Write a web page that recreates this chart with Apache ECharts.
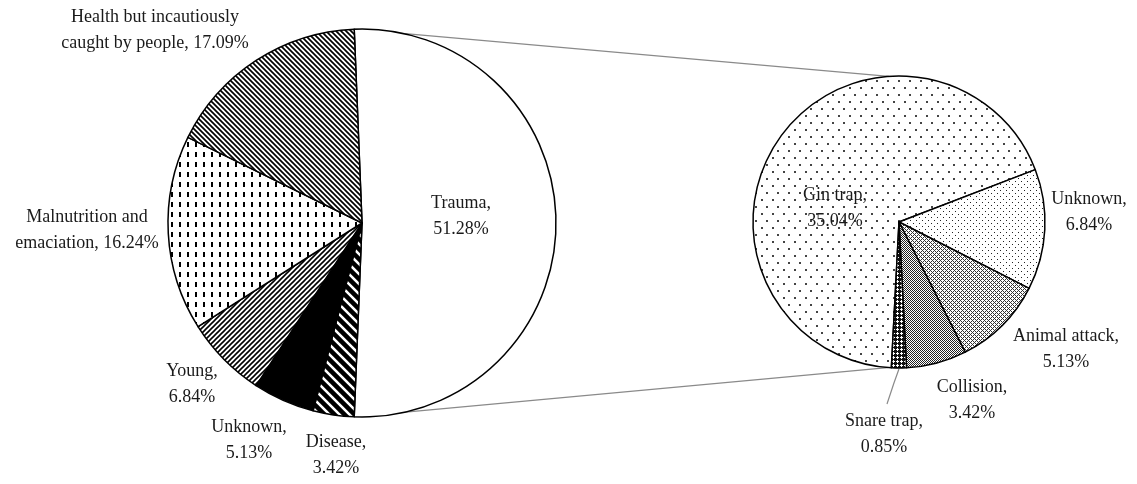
<!DOCTYPE html>
<html>
<head>
<meta charset="utf-8">
<script src="https://cdn.jsdelivr.net/npm/echarts@6/dist/echarts.min.js"></script>
<style>
html,body{margin:0;padding:0;background:#fff;}
#chart{width:1137px;height:484px;}
</style>
</head>
<body>
<div id="chart"></div>
<script>
// ---- data ----
const leftCategories = ['Trauma', 'Disease', 'Unknown', 'Young', 'Malnutrition and\nemaciation', 'Health but incautiously\ncaught by people'];
const leftValues = [51.28, 3.42, 5.13, 6.84, 16.24, 17.09];
const rightCategories = ['Gin trap', 'Unknown', 'Animal attack', 'Collision', 'Snare trap'];
const rightValues = [35.04, 6.84, 5.13, 3.42, 0.85];

// ---- layout ----
const L = { cx: 362, cy: 223, r: 194 };
const R = { cx: 899, cy: 222, r: 146 };
const leftLabelPos = [[461, 216], [336, 455], [249, 440], [192, 384], [87, 230], [155, 30]];
const rightLabelPos = [[835, 208], [1089, 212], [1066, 349], [972, 400], [884, 434]];

// ---- patterns ----
function tile(w, h, draw) {
  const c = document.createElement('canvas');
  c.width = w; c.height = h;
  const ctx = c.getContext('2d');
  ctx.fillStyle = '#fff';
  ctx.fillRect(0, 0, w, h);
  draw(ctx, w, h);
  return { image: c, repeat: 'repeat' };
}
function stripes(s, lw, dir, color) {
  return tile(s, s, (ctx) => {
    ctx.strokeStyle = color; ctx.lineWidth = lw; ctx.lineCap = 'square';
    ctx.beginPath();
    if (dir === '/') {
      ctx.moveTo(-s, s); ctx.lineTo(s, -s);
      ctx.moveTo(0, s); ctx.lineTo(s, 0);
      ctx.moveTo(0, 2 * s); ctx.lineTo(2 * s, 0);
    } else {
      ctx.moveTo(0, 0); ctx.lineTo(s, s);
      ctx.moveTo(-s, 0); ctx.lineTo(s, 2 * s);
      ctx.moveTo(0, -s); ctx.lineTo(2 * s, s);
    }
    ctx.stroke();
  });
}
function pixels(w, h, bg, fg, list) {
  return tile(w, h, (ctx) => {
    ctx.fillStyle = bg; ctx.fillRect(0, 0, w, h);
    ctx.fillStyle = fg;
    list.forEach(p => ctx.fillRect(p[0], p[1], 1, 1));
  });
}
function dots(w, h, size, color, list) {
  return tile(w, h, (ctx) => {
    ctx.fillStyle = color;
    list.forEach(p => ctx.fillRect(p[0], p[1], size, size));
  });
}

const leftStyles = [
  '#ffffff',
  stripes(10, 4.5, '\\', '#000'),
  '#000000',
  stripes(5, 1.6, '/', '#000'),
  tile(8, 10, (ctx) => { ctx.fillStyle = '#000'; ctx.fillRect(3, 2, 2, 5); }),
  stripes(5, 1.7, '\\', '#000')
];
const rightStyles = [
  dots(11, 14, 2, '#444', [[2, 3], [7, 10]]),
  dots(6, 6, 1, '#222', [[1, 1], [4, 4]]),
  pixels(4, 4, '#fff', '#333', [[0, 0], [1, 1], [2, 2], [3, 3], [1, 3], [3, 1]]),
  pixels(2, 2, '#fff', '#222', [[0, 0], [1, 1]]),
  pixels(4, 4, '#111', '#fff', [[1, 0], [0, 1], [1, 1], [2, 1], [1, 2]])
];

function fmt(name, v) {
  const val = v.toFixed(2) + '%';
  return name.indexOf('\n') >= 0 ? name + ', ' + val : name + ',\n' + val;
}

const labelStyle = {
  show: true,
  position: 'inside',
  fontFamily: 'Liberation Serif',
  fontSize: 18,
  lineHeight: 26,
  color: '#1a1a1a',
  align: 'center'
};

function pieSeries(cats, vals, styles, geo, startAngle, labelPos, bw) {
  return {
    type: 'pie',
    center: [geo.cx, geo.cy],
    radius: geo.r,
    startAngle: startAngle,
    clockwise: true,
    avoidLabelOverlap: false,
    animation: false,
    emphasis: { disabled: true },
    z: 3,
    label: Object.assign({}, labelStyle, {
      formatter: (p) => fmt(p.name, p.value)
    }),
    labelLine: { show: false },
    labelLayout: (params) => {
      const p = labelPos[params.dataIndex];
      return { x: p[0], y: p[1], align: 'center', verticalAlign: 'middle' };
    },
    itemStyle: { borderColor: '#000', borderWidth: bw },
    data: cats.map((c, i) => ({ name: c, value: vals[i], itemStyle: { color: styles[i] } }))
  };
}

const leftTotal = leftValues.reduce((a, b) => a + b, 0);
const rightTotal = rightValues.reduce((a, b) => a + b, 0);
// trauma slice centered on 3 o'clock
const traumaSpan = leftValues[0] / leftTotal * 360;
const leftStart = traumaSpan / 2; // math degrees from 3 o'clock
// secondary pie: gin trap starts just left of 6 o'clock
const rightStart = -93;

function ptMath(geo, deg, rr) {
  const a = deg * Math.PI / 180;
  return [geo.cx + rr * Math.cos(a), geo.cy - rr * Math.sin(a)];
}
const lTop = ptMath(L, leftStart, L.r);
const lBot = ptMath(L, leftStart - traumaSpan, L.r);
const rTop = ptMath(R, 94, R.r);
const rBot = ptMath(R, -94.5, R.r);

// snare trap leader
const snareIdx = rightCategories.length - 1;
let acc = 0; for (let i = 0; i < snareIdx; i++) acc += rightValues[i];
const snareMid = rightStart - (acc + rightValues[snareIdx] / 2) / rightTotal * 360;
const sA = ptMath(R, snareMid, R.r + 1);
const sEnd = [rightLabelPos[snareIdx][0] + 3, rightLabelPos[snareIdx][1] - 30];

const chart = echarts.init(document.getElementById('chart'), null, { renderer: 'canvas' });
chart.setOption({
  backgroundColor: '#ffffff',
  animation: false,
  graphic: [
    { type: 'line', z: 1, shape: { x1: lTop[0], y1: lTop[1], x2: rTop[0], y2: rTop[1] }, style: { stroke: '#8a8a8a', lineWidth: 1.3 } },
    { type: 'line', z: 1, shape: { x1: lBot[0], y1: lBot[1], x2: rBot[0], y2: rBot[1] }, style: { stroke: '#8a8a8a', lineWidth: 1.3 } },
    { type: 'polyline', z: 1, shape: { points: [sA, [sA[0] - 5, sA[1] + 14], sEnd] }, style: { stroke: '#8a8a8a', lineWidth: 1.2, fill: null } }
  ],
  series: [
    pieSeries(leftCategories, leftValues, leftStyles, L, leftStart, leftLabelPos, 1.5),
    pieSeries(rightCategories, rightValues, rightStyles, R, rightStart, rightLabelPos, 1.5)
  ]
});
</script>
</body>
</html>
